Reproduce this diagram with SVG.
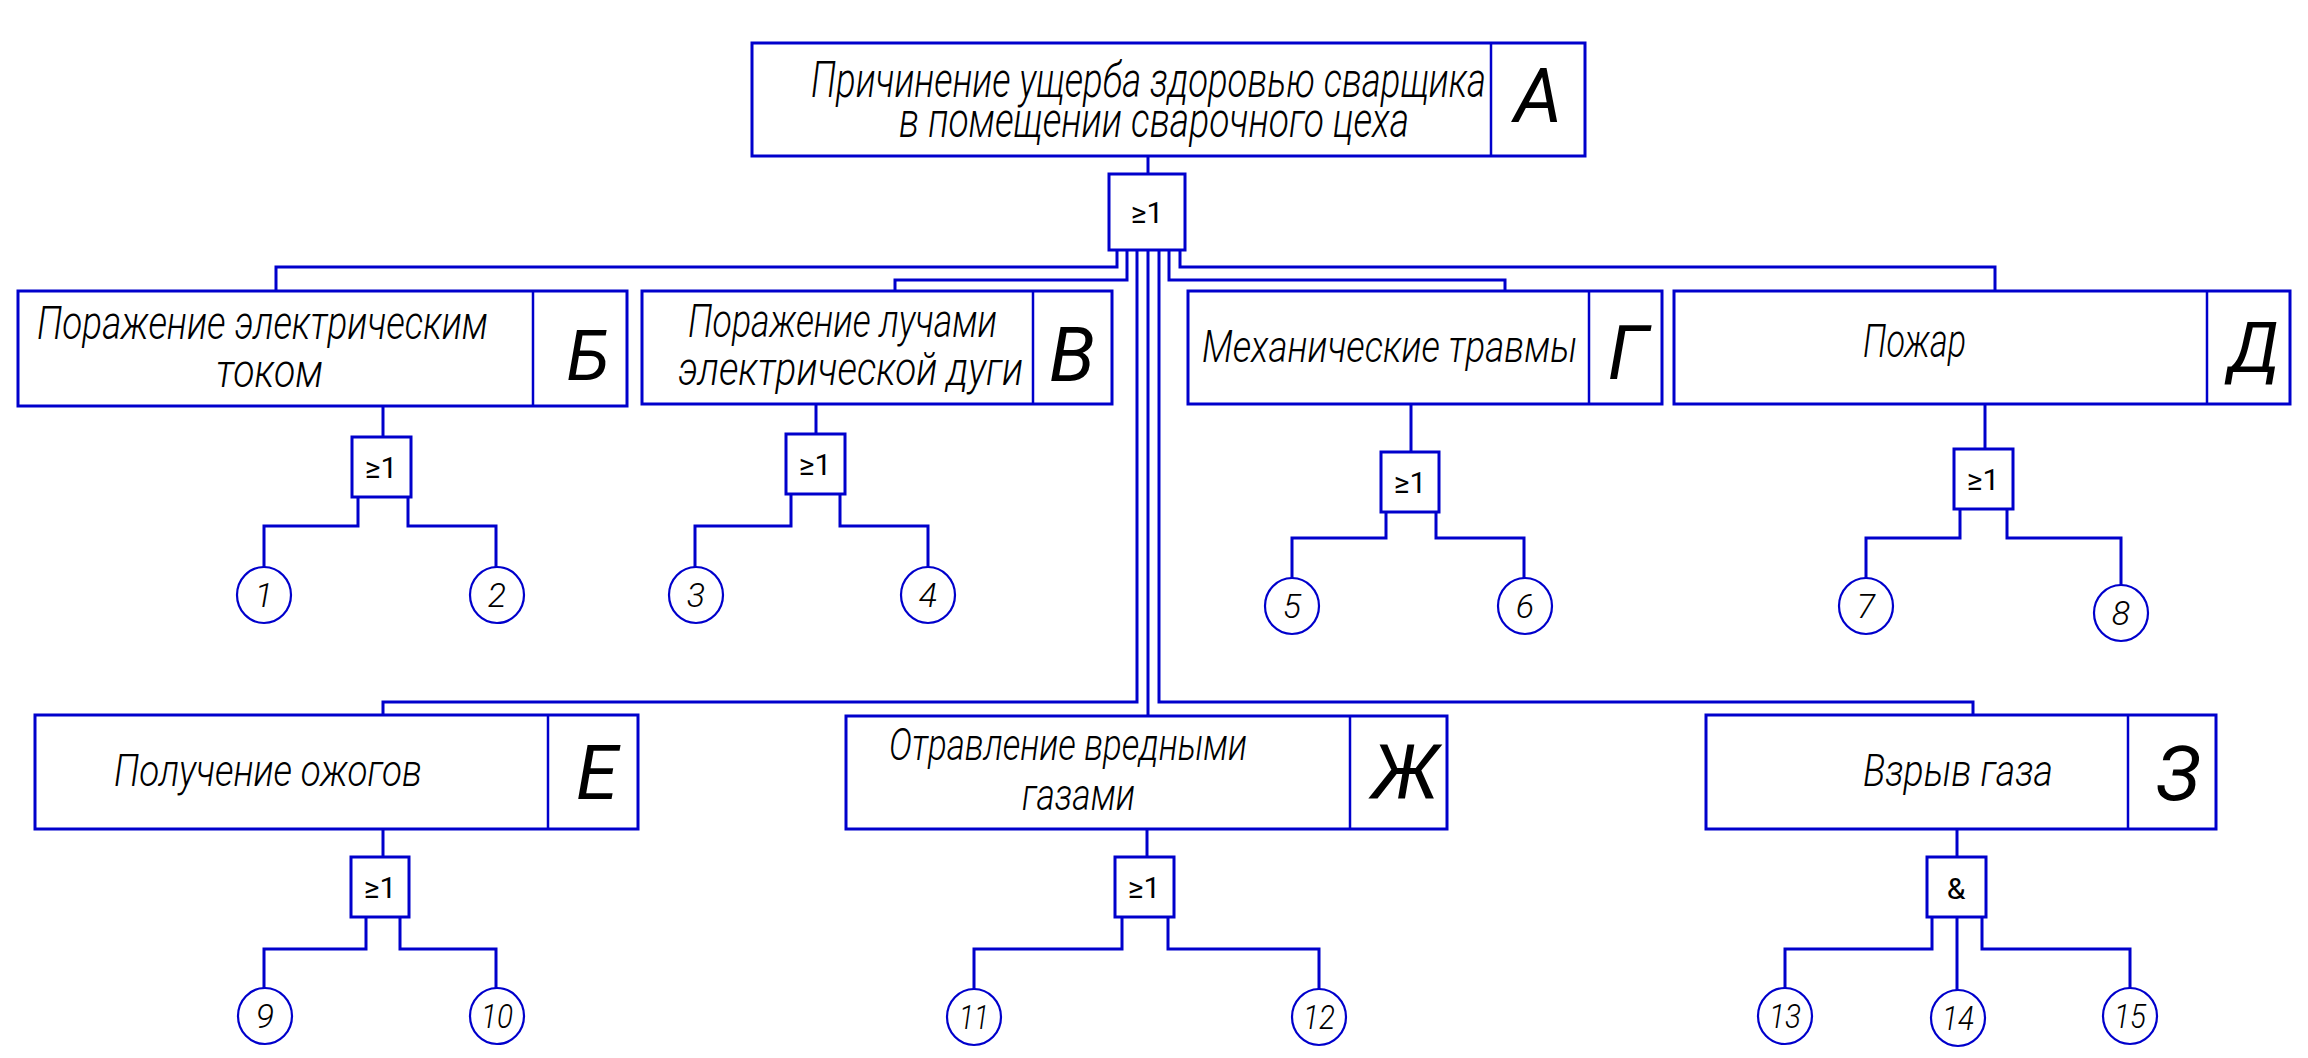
<svg xmlns="http://www.w3.org/2000/svg" width="2308" height="1058" viewBox="0 0 2308 1058">
<style>
.box{fill:none;stroke:#0000CC;stroke-width:3}
.div{fill:none;stroke:#0000CC;stroke-width:2.5}
.gate{fill:none;stroke:#0000CC;stroke-width:3}
.ev{fill:none;stroke:#0000CC;stroke-width:2.2}
.ln{fill:none;stroke:#0000CC;stroke-width:3}
.t{font-family:Roboto,"Liberation Sans",sans-serif;font-style:italic;font-weight:300;fill:#000}
.big{font-family:Roboto,"Liberation Sans",sans-serif;font-style:italic;font-weight:400;fill:#000;text-anchor:middle}
.g{font-family:Roboto,"Liberation Sans",sans-serif;font-weight:400;fill:#000;text-anchor:middle;font-size:30px}
.n{font-family:Roboto,"Liberation Sans",sans-serif;font-style:italic;font-weight:300;fill:#000;text-anchor:middle;font-size:34px}
</style>
<rect width="2308" height="1058" fill="#fff"/>
<g id="connectors">
<path class="ln" d="M1148,156V174"/>
<path class="ln" d="M1117,250V267H276V291"/>
<path class="ln" d="M1127,250V280H895V291"/>
<path class="ln" d="M1137,250V702H383V715"/>
<path class="ln" d="M1148,250V716"/>
<path class="ln" d="M1159,250V702H1973V715"/>
<path class="ln" d="M1169,250V280H1505V291"/>
<path class="ln" d="M1180,250V267H1995V291"/>
<path class="ln" d="M383,406V437"/>
<path class="ln" d="M358,497V526H264V567"/>
<path class="ln" d="M408,497V526H496V567"/>
<path class="ln" d="M816,404V434"/>
<path class="ln" d="M791,494V526H695V567"/>
<path class="ln" d="M840,494V526H928V567"/>
<path class="ln" d="M1411,404V452"/>
<path class="ln" d="M1386,512V538H1292V578"/>
<path class="ln" d="M1436,512V538H1524V578"/>
<path class="ln" d="M1985,404V449"/>
<path class="ln" d="M1960,509V538H1866V578"/>
<path class="ln" d="M2007,509V538H2121V585"/>
<path class="ln" d="M383,829V857"/>
<path class="ln" d="M366,917V949H264V988"/>
<path class="ln" d="M400,917V949H496V988"/>
<path class="ln" d="M1147,829V857"/>
<path class="ln" d="M1122,917V949H974V989"/>
<path class="ln" d="M1168,917V949H1319V989"/>
<path class="ln" d="M1957,829V857"/>
<path class="ln" d="M1932,917V949H1785V988"/>
<path class="ln" d="M1957,917V990"/>
<path class="ln" d="M1982,917V949H2130V988"/>
</g>
<g id="nodeA">
<rect class="box" x="752" y="43" width="833" height="113"/>
<line class="div" x1="1491" y1="43" x2="1491" y2="156"/>
<text class="t" x="811" y="97" font-size="50" textLength="675" lengthAdjust="spacingAndGlyphs">Причинение ущерба здоровью сварщика</text>
<text class="t" x="899" y="137" font-size="50" textLength="510" lengthAdjust="spacingAndGlyphs">в помещении сварочного цеха</text>
<text class="big" x="1538" y="122" font-size="76">А</text>
</g>
<g id="gate0">
<rect class="gate" x="1109" y="174" width="76" height="76"/>
<text class="g" x="1147" y="223">≥1</text>
</g>
<g id="nodeB">
<rect class="box" x="18" y="291" width="609" height="115"/>
<line class="div" x1="533" y1="291" x2="533" y2="406"/>
<text class="t" x="37" y="339" font-size="46" textLength="451" lengthAdjust="spacingAndGlyphs">Поражение электрическим</text>
<text class="t" x="216" y="387" font-size="46" textLength="107" lengthAdjust="spacingAndGlyphs">током</text>
<text class="big" x="588" y="380" font-size="70">Б</text>
</g>
<g id="nodeV">
<rect class="box" x="642" y="291" width="470" height="113"/>
<line class="div" x1="1033" y1="291" x2="1033" y2="404"/>
<text class="t" x="688" y="337" font-size="46" textLength="309" lengthAdjust="spacingAndGlyphs">Поражение лучами</text>
<text class="t" x="678" y="385" font-size="46" textLength="345" lengthAdjust="spacingAndGlyphs">электрической дуги</text>
<text class="big" x="1072" y="381" font-size="76">В</text>
</g>
<g id="nodeG">
<rect class="box" x="1188" y="291" width="474" height="113"/>
<line class="div" x1="1589" y1="291" x2="1589" y2="404"/>
<text class="t" x="1202" y="362" font-size="45" textLength="375" lengthAdjust="spacingAndGlyphs">Механические травмы</text>
<text class="big" x="1628" y="379" font-size="76">Г</text>
</g>
<g id="nodeD">
<rect class="box" x="1674" y="291" width="616" height="113"/>
<line class="div" x1="2207" y1="291" x2="2207" y2="404"/>
<text class="t" x="1863" y="357" font-size="46" textLength="103" lengthAdjust="spacingAndGlyphs">Пожар</text>
<text class="big" x="2254" y="372" font-size="70">Д</text>
</g>
<g id="nodeE">
<rect class="box" x="35" y="715" width="603" height="114"/>
<line class="div" x1="548" y1="715" x2="548" y2="829"/>
<text class="t" x="114" y="786" font-size="45" textLength="308" lengthAdjust="spacingAndGlyphs">Получение ожогов</text>
<text class="big" x="597" y="799" font-size="76">Е</text>
</g>
<g id="nodeZh">
<rect class="box" x="846" y="716" width="601" height="113"/>
<line class="div" x1="1350" y1="716" x2="1350" y2="829"/>
<text class="t" x="889" y="760" font-size="45" textLength="358" lengthAdjust="spacingAndGlyphs">Отравление вредными</text>
<text class="t" x="1022" y="810" font-size="45" textLength="113" lengthAdjust="spacingAndGlyphs">газами</text>
<text class="big" x="1405" y="799" font-size="76">Ж</text>
</g>
<g id="nodeZ">
<rect class="box" x="1706" y="715" width="510" height="114"/>
<line class="div" x1="2128" y1="715" x2="2128" y2="829"/>
<text class="t" x="1863" y="786" font-size="45" textLength="190" lengthAdjust="spacingAndGlyphs">Взрыв газа</text>
<text class="big" x="2178" y="800" font-size="76">З</text>
</g>
<g id="gateB"><rect class="gate" x="352" y="437" width="59" height="60"/><text class="g" x="381" y="478" font-size="27">≥1</text></g>
<g id="gateV"><rect class="gate" x="786" y="434" width="59" height="60"/><text class="g" x="815" y="475" font-size="27">≥1</text></g>
<g id="gateG"><rect class="gate" x="1381" y="452" width="58" height="60"/><text class="g" x="1410" y="493" font-size="27">≥1</text></g>
<g id="gateD"><rect class="gate" x="1954" y="449" width="59" height="60"/><text class="g" x="1983" y="490" font-size="27">≥1</text></g>
<g id="gateE"><rect class="gate" x="351" y="857" width="58" height="60"/><text class="g" x="380" y="898" font-size="27">≥1</text></g>
<g id="gateZh"><rect class="gate" x="1115" y="857" width="59" height="60"/><text class="g" x="1144" y="898" font-size="27">≥1</text></g>
<g id="gateZ"><rect class="gate" x="1927" y="857" width="59" height="60"/><text class="g" x="1956" y="899" font-size="28">&amp;</text></g>
<g id="ev1"><ellipse class="ev" cx="264" cy="595" rx="27" ry="28"/><text class="n" x="264" y="607">1</text></g>
<g id="ev2"><ellipse class="ev" cx="497" cy="595" rx="27" ry="28"/><text class="n" x="497" y="607">2</text></g>
<g id="ev3"><ellipse class="ev" cx="696" cy="595" rx="27" ry="28"/><text class="n" x="696" y="607">3</text></g>
<g id="ev4"><ellipse class="ev" cx="928" cy="595" rx="27" ry="28"/><text class="n" x="928" y="607">4</text></g>
<g id="ev5"><ellipse class="ev" cx="1292" cy="606" rx="27" ry="28"/><text class="n" x="1292" y="618">5</text></g>
<g id="ev6"><ellipse class="ev" cx="1525" cy="606" rx="27" ry="28"/><text class="n" x="1525" y="618">6</text></g>
<g id="ev7"><ellipse class="ev" cx="1866" cy="606" rx="27" ry="28"/><text class="n" x="1866" y="618">7</text></g>
<g id="ev8"><ellipse class="ev" cx="2121" cy="613" rx="27" ry="28"/><text class="n" x="2121" y="625">8</text></g>
<g id="ev9"><ellipse class="ev" cx="265" cy="1016" rx="27" ry="28"/><text class="n" x="265" y="1028">9</text></g>
<g id="ev10"><ellipse class="ev" cx="497" cy="1016" rx="27" ry="28"/><text class="n" x="497" y="1028" textLength="32" lengthAdjust="spacingAndGlyphs">10</text></g>
<g id="ev11"><ellipse class="ev" cx="974" cy="1017" rx="27" ry="28"/><text class="n" x="974" y="1029" textLength="30" lengthAdjust="spacingAndGlyphs">11</text></g>
<g id="ev12"><ellipse class="ev" cx="1319" cy="1017" rx="27" ry="28"/><text class="n" x="1319" y="1029" textLength="32" lengthAdjust="spacingAndGlyphs">12</text></g>
<g id="ev13"><ellipse class="ev" cx="1785" cy="1016" rx="27" ry="28"/><text class="n" x="1785" y="1028" textLength="32" lengthAdjust="spacingAndGlyphs">13</text></g>
<g id="ev14"><ellipse class="ev" cx="1958" cy="1018" rx="27" ry="28"/><text class="n" x="1958" y="1030" textLength="32" lengthAdjust="spacingAndGlyphs">14</text></g>
<g id="ev15"><ellipse class="ev" cx="2130" cy="1016" rx="27" ry="28"/><text class="n" x="2130" y="1028" textLength="32" lengthAdjust="spacingAndGlyphs">15</text></g>
</svg>
